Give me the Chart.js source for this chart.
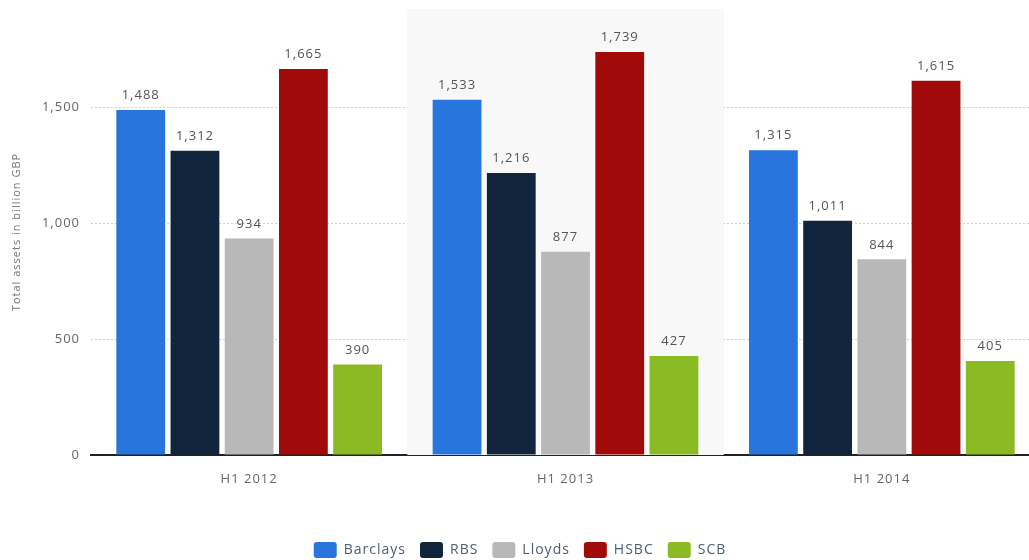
<!DOCTYPE html>
<html>
<head>
<meta charset="utf-8">
<script src="https://cdn.jsdelivr.net/npm/chart.js@4/dist/chart.umd.min.js"></script>
<style>
  html, body { margin: 0; padding: 0; background: #fff; overflow: hidden; }
  #wrap { position: relative; width: 1040px; height: 560px; }
</style>
</head>
<body>
<div id="wrap"><canvas id="assetsChart"></canvas></div>
<script>
var periods = ['H1 2012', 'H1 2013', 'H1 2014'];
var barclays = [1488, 1533, 1315];
var rbs = [1312, 1216, 1011];
var lloyds = [934, 877, 844];
var hsbc = [1665, 1739, 1615];
var scb = [390, 427, 405];
var yTicks = [0, 500, 1000, 1500];

var fontFamily = '"Open Sans", Roboto, sans-serif';

// the original text is spaced out a bit
var spacingPlugin = {
    id: 'spacing',
    beforeUpdate: function(chart) { chart.ctx.letterSpacing = '1px'; },
    beforeDraw: function(chart) { chart.ctx.letterSpacing = '1px'; }
};

// light band behind the middle period
var bandPlugin = {
    id: 'band',
    beforeDatasetsDraw: function(chart) {
        var x = chart.scales.x, area = chart.chartArea, c = chart.ctx;
        var w = (x.right - x.left) / periods.length;
        c.save();
        c.fillStyle = '#f8f8f8';
        c.fillRect(x.left + w, area.top, w, area.bottom - area.top);
        c.restore();
    }
};

// numbers above each bar
var valuePlugin = {
    id: 'values',
    afterDatasetsDraw: function(chart) {
        var c = chart.ctx;
        c.save();
        c.font = '13px ' + fontFamily;
        c.fillStyle = '#555';
        c.textAlign = 'center';
        c.textBaseline = 'bottom';
        chart.data.datasets.forEach(function(ds, i) {
            chart.getDatasetMeta(i).data.forEach(function(bar, j) {
                c.fillText(ds.data[j].toLocaleString('en-US'), bar.x, bar.y - 8);
            });
        });
        c.restore();
    }
};

var ctx = document.getElementById('assetsChart').getContext('2d');
var assetsChart = new Chart(ctx, {
    type: 'bar',
    data: {
        labels: periods,
        datasets: [
            { label: 'Barclays', data: barclays, backgroundColor: '#2876dd' },
            { label: 'RBS', data: rbs, backgroundColor: '#11263c' },
            { label: 'Lloyds', data: lloyds, backgroundColor: '#b8b8b8' },
            { label: 'HSBC', data: hsbc, backgroundColor: '#a10a0a' },
            { label: 'SCB', data: scb, backgroundColor: '#8bbb24' }
        ]
    },
    options: {
        responsive: true,
        maintainAspectRatio: false,
        animation: false,
        categoryPercentage: 0.857,
        barPercentage: 0.9,
        layout: { padding: { top: 9, left: 0, right: 0, bottom: -8 } },
        plugins: {
            tooltip: { enabled: false },
            legend: {
                position: 'bottom',
                labels: {
                    boxWidth: 23,
                    boxHeight: 16,
                    useBorderRadius: true,
                    borderRadius: 3,
                    color: '#4a5d73',
                    padding: 14,
                    font: { family: fontFamily, size: 14 }
                }
            }
        },
        scales: {
            x: {
                grid: { display: false },
                border: { color: '#222', width: 2 },
                ticks: { color: '#666', padding: 8, font: { family: fontFamily, size: 13 } },
                afterFit: function(scale) { scale.height = 73; }
            },
            y: {
                min: 0,
                max: 1924,
                border: { display: false, dash: [2, 2] },
                grid: {
                    color: function(c) { return c.tick.value === 0 ? 'rgba(0,0,0,0)' : '#cfcfcf'; },
                    drawTicks: false
                },
                ticks: {
                    color: '#666',
                    padding: 11,
                    font: { family: fontFamily, size: 13 },
                    callback: function(v) { return v.toLocaleString('en-US'); }
                },
                afterBuildTicks: function(axis) {
                    axis.ticks = yTicks.map(function(v) { return { value: v }; });
                },
                afterFit: function(scale) {
                    scale.width = 91;
                    scale.paddingTop = 0;
                    scale.paddingBottom = 0;
                },
                title: {
                    display: true,
                    text: 'Total assets in billion GBP',
                    color: '#777',
                    font: { family: fontFamily, size: 11 },
                    padding: { top: 10, bottom: 4 }
                }
            }
        }
    },
    plugins: [spacingPlugin, bandPlugin, valuePlugin]
});
</script>
</body>
</html>
